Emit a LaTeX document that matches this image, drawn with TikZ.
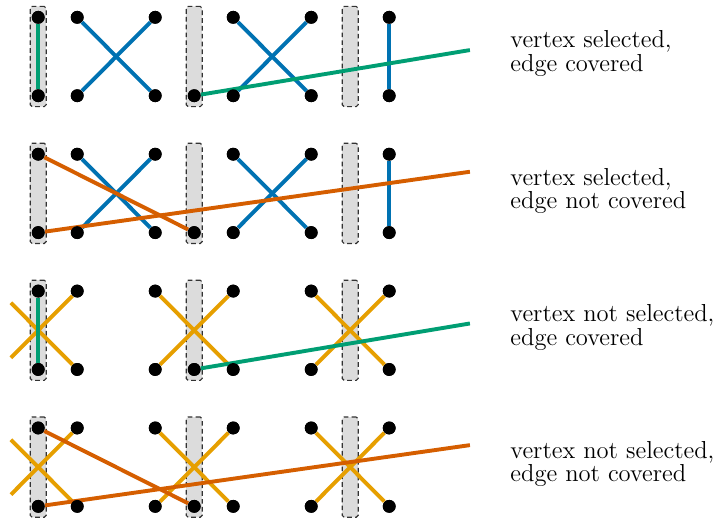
\documentclass[tikz,border=0pt]{standalone}
\definecolor{oiblue}{HTML}{0072B2}
\definecolor{oigreen}{HTML}{009E73}
\definecolor{oiorange}{HTML}{E69F00}
\definecolor{oired}{HTML}{D55E00}
\definecolor{boxgray}{HTML}{DCDCDC}
\begin{document}
\begin{tikzpicture}[x=20pt,y=-20pt,
  dot/.style={circle,fill=black,inner sep=0pt,minimum size=6.6pt},
  selbox/.style={fill=boxgray,draw=black!80,line width=0.6pt,
    dash pattern=on 2.4pt off 1.6pt,rounded corners=1pt,
    minimum width=8.2pt,minimum height=51.4pt,inner sep=0pt},
  ed/.style={line width=2pt},
  lbl/.style={anchor=west,align=left,inner sep=0pt,
    font=\fontsize{12.6}{12}\selectfont}]
\useasboundingbox (0,0) rectangle (18.36,13.41);

% grid positions: four rows, ten columns
\foreach \r/\ty in {1/0.444,2/3.954,3/7.464,4/10.974}{
  \foreach \k in {0,...,9}{
    \coordinate (t\r-\k) at ({0.98+\k},\ty);
    \coordinate (b\r-\k) at ({0.98+\k},\ty+2.01);
  }
  % selection boxes
  \foreach \k in {0,4,8}
    \node[selbox] (s\r-\k) at ({0.98+\k},\ty+1.005) {};
  % free ends
  \coordinate (e\r-t) at (0.28,\ty+0.301);
  \coordinate (e\r-b) at (0.28,\ty+1.709);
}
\coordinate (far1) at (12.05,0.444+0.84);
\coordinate (far2) at (12.05,3.954+0.45);
\coordinate (far3) at (12.05,7.464+0.83);
\coordinate (far4) at (12.05,10.974+0.44);

% vertices
\foreach \r in {1,...,4}
  \foreach \p in {t\r-0,b\r-0,t\r-1,b\r-1,t\r-3,b\r-3,b\r-4,t\r-5,b\r-5,t\r-7,b\r-7,t\r-9,b\r-9}
    \node[dot] (d\p) at (\p) {};

% blue edges (rows 1 and 2)
\foreach \r in {1,2}{
  \draw[ed,oiblue] (dt\r-1) -- (db\r-3);
  \draw[ed,oiblue] (db\r-1) -- (dt\r-3);
  \draw[ed,oiblue] (dt\r-5) -- (db\r-7);
  \draw[ed,oiblue] (db\r-5) -- (dt\r-7);
  \draw[ed,oiblue] (dt\r-9) -- (db\r-9);
}
% orange edges (rows 3 and 4)
\foreach \r in {3,4}{
  \draw[ed,oiorange] (dt\r-1) -- (e\r-b);
  \draw[ed,oiorange] (db\r-1) -- (e\r-t);
  \draw[ed,oiorange] (dt\r-3) -- (db\r-5);
  \draw[ed,oiorange] (db\r-3) -- (dt\r-5);
  \draw[ed,oiorange] (dt\r-7) -- (db\r-9);
  \draw[ed,oiorange] (db\r-7) -- (dt\r-9);
}
% covered edges
\draw[ed,oigreen] (dt1-0) -- (db1-0);
\draw[ed,oigreen] (db1-4) -- (far1);
\draw[ed,oigreen] (dt3-0) -- (db3-0);
\draw[ed,oigreen] (db3-4) -- (far3);
% uncovered edges
\draw[ed,oired] (dt2-0) -- (db2-4);
\draw[ed,oired] (db2-0) -- (far2);
\draw[ed,oired] (dt4-0) -- (db4-4);
\draw[ed,oired] (db4-0) -- (far4);

% vertices drawn again above the edges
\foreach \r in {1,...,4}
  \foreach \p in {t\r-0,b\r-0,t\r-1,b\r-1,t\r-3,b\r-3,b\r-4,t\r-5,b\r-5,t\r-7,b\r-7,t\r-9,b\r-9}
    \fill (\p) circle[radius=3.3pt];

% labels
\node[lbl] (l1) at (13.08,0.444+0.93) {vertex selected,\\edge covered};
\node[lbl] (l2) at (13.08,3.954+0.95) {vertex selected,\\edge not covered};
\node[lbl] (l3) at (13.08,7.464+0.93) {vertex not selected,\\edge covered};
\node[lbl] (l4) at (13.08,10.974+0.93) {vertex not selected,\\edge not covered};
\end{tikzpicture}
\end{document}
